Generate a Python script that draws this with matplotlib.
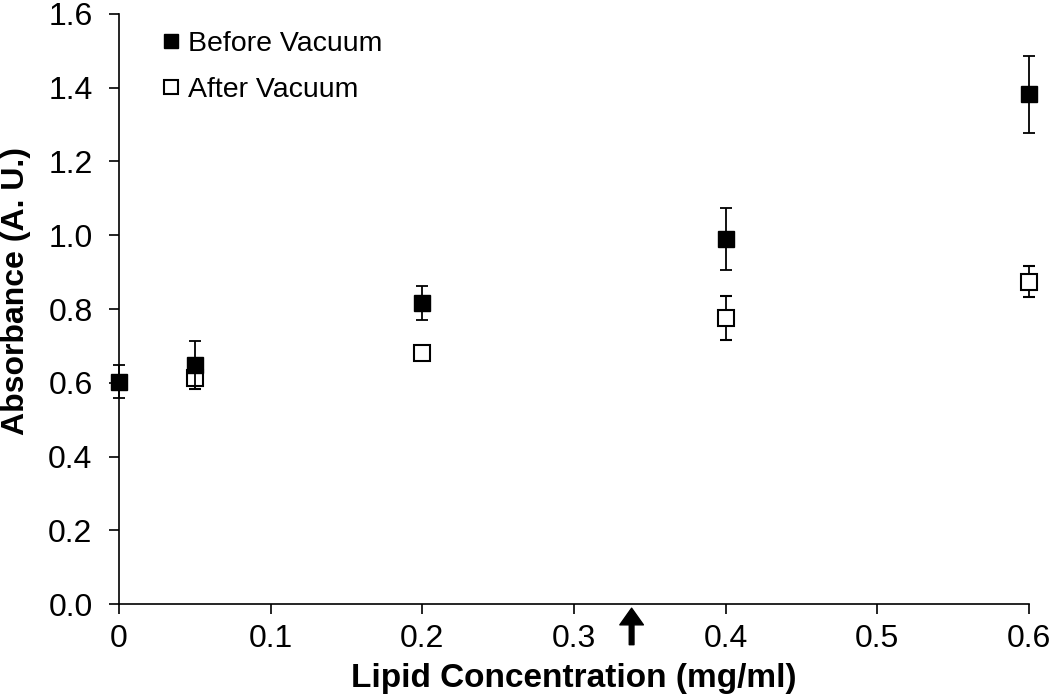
import matplotlib
matplotlib.use("Agg")
import matplotlib.pyplot as plt

plt.rcParams["font.family"] = ["Liberation Sans", "DejaVu Sans"]

# data
conc = [0, 0.05, 0.2, 0.4, 0.6]
before = [0.603, 0.648, 0.816, 0.990, 1.382]
before_err = [0.045, 0.065, 0.046, 0.084, 0.105]
after_x = [0.05, 0.2, 0.4, 0.6]
after = [0.614, 0.681, 0.776, 0.874]
after_err = [0.030, 0.012, 0.060, 0.042]
arrow_x = 0.338

fig = plt.figure(figsize=(10.5, 6.96), dpi=100)
ax = fig.add_axes([0.1133, 0.132, 0.8667, 0.848])

eb_after = ax.errorbar(after_x, after, yerr=after_err, fmt="s", color="black",
                       mfc="white", mec="black", mew=1.5, ms=11, ecolor="black",
                       elinewidth=1.3, capsize=4, capthick=1.3,
                       label="After Vacuum", zorder=3)
eb_before = ax.errorbar(conc, before, yerr=before_err, fmt="s", color="black",
                        mfc="black", mec="black", ms=11, ecolor="black",
                        elinewidth=1.3, capsize=4, capthick=1.3,
                        label="Before Vacuum", zorder=4)
for eb in (eb_after, eb_before):
    eb[0].set_clip_on(False)
    for a in eb[1]:
        a.set_clip_on(False)
    for a in eb[2]:
        a.set_clip_on(False)

ax.set_xlim(0, 0.6)
ax.set_ylim(0, 1.6)
ax.set_xticks([0, 0.1, 0.2, 0.3, 0.4, 0.5, 0.6])
ax.set_xticklabels(["0", "0.1", "0.2", "0.3", "0.4", "0.5", "0.6"])
ax.set_yticks([0.0, 0.2, 0.4, 0.6, 0.8, 1.0, 1.2, 1.4, 1.6])
ax.set_yticklabels([f"{v:.1f}" for v in ax.get_yticks()])
ax.tick_params(axis="both", labelsize=23, direction="out", length=7, width=1.2)
ax.tick_params(axis="x", pad=7)
ax.tick_params(axis="y", pad=12)
ax.spines["top"].set_visible(False)
ax.spines["right"].set_visible(False)
ax.spines["left"].set_linewidth(1.2)
ax.spines["bottom"].set_linewidth(1.2)

ax.set_xlabel("Lipid Concentration (mg/ml)", fontsize=24, fontweight="bold",
              labelpad=7)
ax.set_ylabel("Absorbance (A. U.)", fontsize=23, fontweight="bold")
ax.yaxis.set_label_coords(-0.097, 0.53)

# arrow under the x axis
ax.annotate("", xy=(arrow_x, -0.011), xytext=(arrow_x, -0.11),
            xycoords="data", textcoords="data", annotation_clip=False,
            arrowprops=dict(width=3.4, headwidth=17, headlength=12,
                            color="black", shrink=0))

handles, labels = ax.get_legend_handles_labels()
leg = ax.legend([h[0] for h in handles[::-1]], labels[::-1], loc="upper left",
                bbox_to_anchor=(0.02, 1.014), frameon=False, fontsize=20.5,
                handlelength=0.6, handletextpad=0.3, markerscale=0.95,
                labelspacing=0.68)

fig.savefig("out.png", dpi=100)
